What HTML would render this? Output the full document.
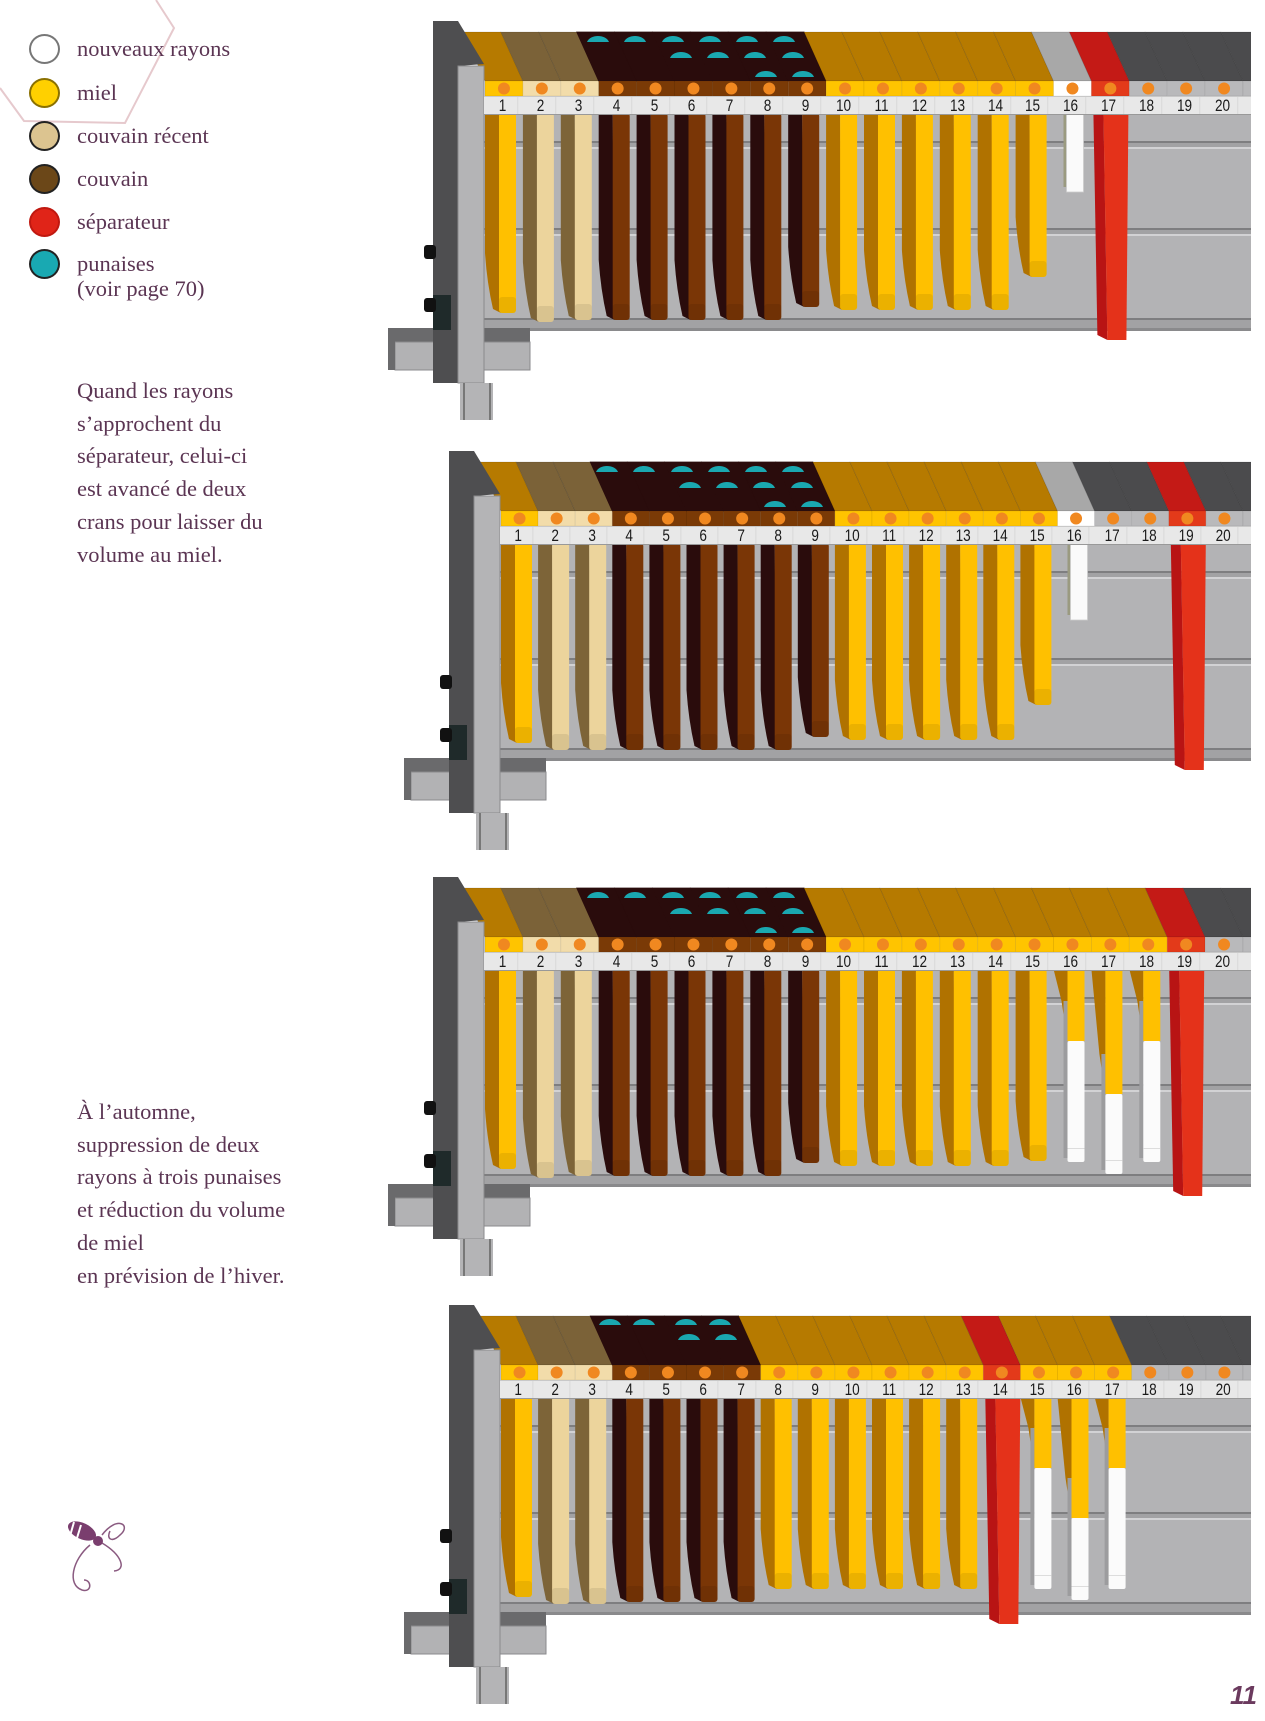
<!DOCTYPE html>
<html><head><meta charset="utf-8">
<style>
html,body{margin:0;padding:0;background:#fff;}
body{width:1265px;height:1721px;position:relative;overflow:hidden;font-family:"Liberation Serif",serif;color:#5b3553;}
.lg{position:absolute;left:77px;font-size:22.5px;line-height:25px;white-space:nowrap;}
.dot{position:absolute;left:29px;width:27px;height:26px;border-radius:50%;border:2px solid #222;}
.para{position:absolute;left:77px;font-size:22.5px;line-height:32.7px;}
.pan{position:absolute;left:0;top:0;}
.ruler{position:absolute;height:17px;background:#e8e8e8;border-top:1px solid #c8c8c8;border-bottom:1px solid #999;display:flex;overflow:hidden;font-family:"Liberation Sans",sans-serif;font-size:17px;line-height:18px;color:#1a1a1a;}
.ruler span{flex:0 0 auto;text-align:center;border-right:1px solid #d4d4d4;box-sizing:border-box;transform:scaleX(0.8);}
</style></head><body>
<svg width="200" height="140" style="position:absolute;left:0;top:0">
<polyline points="0,88 24,121 125,123 174,28 156,0" fill="none" stroke="#e6c9cd" stroke-width="2"/>
</svg>
<div class="dot" style="top:34px;background:#fff;border-color:#777"></div>
<div class="dot" style="top:78px;background:#ffd000;border-color:#8a7000"></div>
<div class="dot" style="top:121px;background:#dcc490"></div>
<div class="dot" style="top:164px;background:#6b4718"></div>
<div class="dot" style="top:207px;background:#e02418;border-color:#c01810"></div>
<div class="dot" style="top:249px;background:#19a9b2"></div>
<div class="lg" style="top:36px">nouveaux rayons</div>
<div class="lg" style="top:80px">miel</div>
<div class="lg" style="top:123px">couvain récent</div>
<div class="lg" style="top:166px">couvain</div>
<div class="lg" style="top:209px">séparateur</div>
<div class="lg" style="top:251px">punaises<br>(voir page 70)</div>
<div class="para" style="top:375px">Quand les rayons<br>s’approchent du<br>séparateur, celui-ci<br>est avancé de deux<br>crans pour laisser du<br>volume au miel.</div>
<div class="para" style="top:1096px">À l’automne,<br>suppression de deux<br>rayons à trois punaises<br>et réduction du volume<br>de miel<br>en prévision de l’hiver.</div>
<svg width="70" height="90" style="position:absolute;left:62px;top:1505px" viewBox="0 0 70 90">
<path d="M40 30 C55 10 70 20 58 30 C50 38 44 34 48 26" fill="none" stroke="#8a5a80" stroke-width="1.5"/>
<path d="M28 40 C10 55 5 80 20 85 C30 88 30 75 22 75" fill="none" stroke="#8a5a80" stroke-width="1.5"/>
<path d="M40 38 C60 50 65 65 52 66" fill="none" stroke="#8a5a80" stroke-width="1.5"/>
<ellipse cx="20" cy="26" rx="15" ry="8" transform="rotate(25 20 26)" fill="#7a3e6e"/>
<line x1="12" y1="17" x2="8" y2="31" stroke="#fff" stroke-width="2"/>
<line x1="19" y1="20" x2="15" y2="33" stroke="#fff" stroke-width="2"/>
<circle cx="36" cy="36" r="5" fill="#7a3e6e"/>
</svg>
<div style="position:absolute;left:1230px;top:1680px;font-family:'Liberation Sans',sans-serif;font-weight:bold;font-style:italic;font-size:26px;color:#6b3a5e">11</div>

<div id="p1" class="pan"></div>
<div id="p2" class="pan"></div>
<div id="p3" class="pan"></div>
<div id="p4" class="pan"></div>

<div class="ruler" id="r1" style="left:484px;top:96px;width:767px"><span>1</span><span>2</span><span>3</span><span>4</span><span>5</span><span>6</span><span>7</span><span>8</span><span>9</span><span>10</span><span>11</span><span>12</span><span>13</span><span>14</span><span>15</span><span>16</span><span>17</span><span>18</span><span>19</span><span>20</span><span>21</span></div>
<div class="ruler" id="r2" style="left:500px;top:526px;width:751px"><span>1</span><span>2</span><span>3</span><span>4</span><span>5</span><span>6</span><span>7</span><span>8</span><span>9</span><span>10</span><span>11</span><span>12</span><span>13</span><span>14</span><span>15</span><span>16</span><span>17</span><span>18</span><span>19</span><span>20</span><span>21</span></div>
<div class="ruler" id="r3" style="left:484px;top:952px;width:767px"><span>1</span><span>2</span><span>3</span><span>4</span><span>5</span><span>6</span><span>7</span><span>8</span><span>9</span><span>10</span><span>11</span><span>12</span><span>13</span><span>14</span><span>15</span><span>16</span><span>17</span><span>18</span><span>19</span><span>20</span><span>21</span></div>
<div class="ruler" id="r4" style="left:500px;top:1380px;width:751px"><span>1</span><span>2</span><span>3</span><span>4</span><span>5</span><span>6</span><span>7</span><span>8</span><span>9</span><span>10</span><span>11</span><span>12</span><span>13</span><span>14</span><span>15</span><span>16</span><span>17</span><span>18</span><span>19</span><span>20</span><span>21</span></div>

<script>
var NS="http://www.w3.org/2000/svg";
var C={
H:{top:"#b67a00",band:"#ffc400",side:"#b07200",face:"#ffc000"},
R:{top:"#7b6238",band:"#f2dcaa",side:"#7d6438",face:"#ecd49c"},
B:{top:"#2a0c0c",band:"#7a3a06",side:"#2a0c0c",face:"#7a3606"},
W:{top:"#a8a8a8",band:"#ffffff",side:"#9a9a80",face:"#fafafa"},
S:{top:"#c41a16",band:"#e33a1a",side:"#b81414",face:"#e4321a"},
E:{top:"#4b4b4d",band:"#b9b9bb"}
};
function el(p,t,a){var e=document.createElementNS(NS,t);for(var k in a)e.setAttribute(k,a[k]);p.appendChild(e);return e;}
function panel(id,dx,dy,w,slots,bottoms,split,dots){
  var host=document.getElementById(id);
  host.style.left=dx+"px";host.style.top=dy+"px";
  var W=1251-dx;
  var s=el(host,"svg",{width:W,height:425});
  s.style.position="absolute";s.style.left="0";s.style.top="0";
  var X0=485;
  el(s,"rect",{x:484,y:113,width:W-484,height:217,fill:"#b3b3b5"});
  [[141,8],[228,8],[318,12]].forEach(function(r){
    el(s,"rect",{x:484,y:r[0],width:W-484,height:r[1],fill:"#a2a2a4"});
    el(s,"rect",{x:484,y:r[0],width:W-484,height:2,fill:"#7e7e80"});
    el(s,"rect",{x:484,y:r[0]+r[1]-2,width:W-484,height:2,fill:"#d2d2d4"});
  });
  el(s,"rect",{x:484,y:328,width:W-484,height:3,fill:"#8a8a8c"});
  for(var i=0;i<21;i++){
    var t=slots[i],x0=X0+i*w,c=C[t];
    el(s,"polygon",{points:(x0-22)+",32 "+(x0+w-22)+",32 "+(x0+w)+",81 "+x0+",81",fill:c.top,stroke:t=="B"?c.top:"rgba(0,0,0,0.15)","stroke-width":"0.8"});
    el(s,"rect",{x:x0,y:81,width:w,height:15,fill:c.band,stroke:"rgba(0,0,0,0.08)","stroke-width":"0.8"});
    el(s,"circle",{cx:x0+w/2,cy:88.5,r:6,fill:"#f08820"});
  }
  dots.forEach(function(d){el(s,"path",{d:"M"+(d[0]-11)+" "+(d[1]+2)+" C"+(d[0]-8)+" "+(d[1]-6)+" "+(d[0]+8)+" "+(d[1]-6)+" "+(d[0]+11)+" "+(d[1]+2)+" Z",fill:"#1aa8b0"});});
  for(var i=0;i<21;i++){
    var t=slots[i],x0=X0+i*w,c=C[t],b=bottoms[i];
    if(t=="E")continue;
    if(t=="S"){
      el(s,"polygon",{points:(x0+2)+",113 "+(x0+12)+",113 "+(x0+16)+",340 "+(x0+6)+",335",fill:c.side});
      el(s,"polygon",{points:(x0+12)+",113 "+(x0+37)+",113 "+(x0+35)+",340 "+(x0+16)+",340",fill:c.face});
      continue;
    }
    if(t=="W"){
      el(s,"rect",{x:x0+10,y:113,width:3,height:b-118,fill:c.side});
      el(s,"rect",{x:x0+13,y:113,width:17,height:b-113,fill:c.face,stroke:"#ccc","stroke-width":"0.8"});
      continue;
    }
    var sp=split[i];
    if(sp){
      el(s,"polygon",{points:x0+",113 "+(x0+14)+",113 "+(x0+14)+","+sp+" "+(x0+8)+","+(sp-40),fill:c.side});
      el(s,"rect",{x:x0+10,y:sp-40,width:4,height:b-sp+36,fill:"#9c9c9e"});
      el(s,"rect",{x:x0+14,y:113,width:17,height:sp-113,fill:c.face});
      el(s,"rect",{x:x0+14,y:sp,width:17,height:b-sp,rx:2,fill:"#fbfbfb"});
      el(s,"rect",{x:x0+14,y:b-14,width:17,height:1,fill:"#ddd"});
      continue;
    }
    el(s,"path",{d:"M"+x0+" 113 L"+(x0+14)+" 113 L"+(x0+16)+" "+b+" L"+(x0+8)+" "+(b-4)+" Q"+(x0+2)+" "+(b-30)+" "+x0+" "+(b-60)+" Z",fill:c.side});
    el(s,"rect",{x:x0+14,y:113,width:17,height:b-113,rx:3,fill:c.face});
    el(s,"rect",{x:x0+14,y:b-16,width:17,height:16,rx:3,fill:"rgba(0,0,0,0.08)"});
  }
  el(s,"rect",{x:388,y:328,width:142,height:14,fill:"#6a6a6c"});
  el(s,"rect",{x:395,y:342,width:135,height:28,fill:"#b2b2b4",stroke:"#8a8a8c","stroke-width":"1"});
  el(s,"rect",{x:388,y:328,width:7,height:42,fill:"#6a6a6c"});
  el(s,"rect",{x:433,y:21,width:25,height:362,fill:"#4e4e50"});
  el(s,"polygon",{points:"458,21 484,64 458,66",fill:"#4e4e50"});
  el(s,"rect",{x:458,y:66,width:26,height:317,fill:"#b4b4b6",stroke:"#8a8a8c","stroke-width":"1"});
  el(s,"rect",{x:460,y:383,width:33,height:37,fill:"#b4b4b6"});
  el(s,"rect",{x:463,y:383,width:2,height:37,fill:"#777"});
  el(s,"rect",{x:489,y:383,width:2,height:37,fill:"#777"});
  el(s,"rect",{x:433,y:295,width:18,height:35,fill:"#1f2a2a"});
  el(s,"rect",{x:424,y:245,width:12,height:14,rx:3,fill:"#111"});
  el(s,"rect",{x:424,y:298,width:12,height:14,rx:3,fill:"#111"});
}
var d1=[[598,40],[635,40],[673,40],[710,40],[747,40],[784,40],[681,56],[718,56],[755,56],[793,56],[766,75],[803,75]];
var S1="HRRBBBBBBHHHHHHWSEEEE".split("");
var B1=[313,322,320,320,320,320,320,320,307,310,310,310,310,310,277,192,340,0,0,0,0];
panel("p1",0,0,37.9,S1,B1,[],d1);
var S2="HRRBBBBBBHHHHHHWEESEE".split("");
var B2=[313,320,320,320,320,320,320,320,307,310,310,310,310,310,275,190,0,0,340,0,0];
var d2=d1.map(function(p){return[p[0]-7,p[1]];});
panel("p2",16,430,37.1,S2,B2,[],d2);
var S3="HRRBBBBBBHHHHHHHHHSEE".split("");
var B3=[313,322,320,320,320,320,320,320,307,310,310,310,310,310,305,306,318,306,340,0,0];
var sp3=[];sp3[15]=185;sp3[16]=238;sp3[17]=185;
panel("p3",0,856,37.9,S3,B3,sp3,d1);
var S4="HRRBBBBHHHHHHSHHHEEEE".split("");
var B4=[313,320,320,318,318,318,318,305,305,305,305,305,305,344,305,316,305,0,0,0,0];
var sp4=[];sp4[14]=184;sp4[15]=234;sp4[16]=184;
panel("p4",16,1284,37.1,S4,B4,sp4,[[594,39],[628,39],[670,39],[704,39],[673,54],[710,54]]);
[["r1",37.9],["r2",37.1],["r3",37.9],["r4",37.1]].forEach(function(r){
  var sp=document.getElementById(r[0]).children;for(var i=0;i<sp.length;i++)sp[i].style.width=r[1]+"px";
});
</script>
</body></html>
